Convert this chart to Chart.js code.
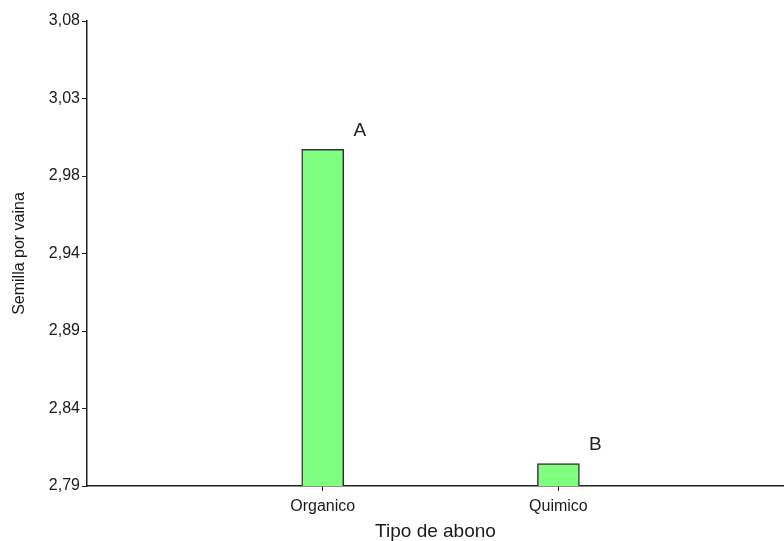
<!DOCTYPE html>
<html>
<head>
<meta charset="utf-8">
<script src="https://cdn.jsdelivr.net/npm/chart.js@4"></script>
<style>
  html, body { margin: 0; padding: 0; background: #fff; }
  #wrap { width: 784px; height: 541px; }
</style>
</head>
<body>
<div id="wrap"><canvas id="chart" width="784" height="541"></canvas></div>
<script>
// data
const categories = ["Organico", "Quimico"];
const categoryPos = [1, 2];
const seedsPerPod = [3.00, 2.804];
const letters = ["A", "B"];
const yTickLabels = ["2,79", "2,84", "2,89", "2,94", "2,98", "3,03", "3,08"];
const yMin = 2.79;
const yMax = 3.08;

const fontFamily = "'Liberation Sans', Arial, sans-serif";

// letters above the bars
const letterPlugin = {
  id: "letters",
  afterDatasetsDraw(chart) {
    const ctx = chart.ctx;
    const xs = chart.scales.x;
    const ys = chart.scales.y;
    ctx.save();
    ctx.font = "19px " + fontFamily;
    ctx.fillStyle = "#222";
    ctx.textAlign = "center";
    ctx.textBaseline = "middle";
    letters.forEach((l, i) => {
      const x = xs.getPixelForValue(categoryPos[i]) + 37;
      const y = ys.getPixelForValue(seedsPerPod[i]) - 19;
      ctx.fillText(l, x, y);
    });
    ctx.restore();
  }
};

const ctx = document.getElementById("chart");
const chart = new Chart(ctx, {
  type: "bar",
  data: {
    datasets: [{
      data: categoryPos.map((p, i) => ({ x: p, y: seedsPerPod[i] })),
      backgroundColor: "#80ff80",
      borderColor: "#333",
      borderWidth: 1.5,
      barThickness: 42
    }]
  },
  options: {
    responsive: false,
    animation: false,
    layout: { padding: { top: 21, right: 0, left: 0, bottom: 0 } },
    plugins: { legend: { display: false }, tooltip: { enabled: false } },
    scales: {
      x: {
        type: "linear",
        offset: false,
        min: 0,
        max: 2.957,
        afterBuildTicks(scale) {
          scale.ticks = categoryPos.map(v => ({ value: v }));
        },
        afterFit(scale) { scale.height = 55; },
        ticks: {
          callback: (v) => categories[categoryPos.indexOf(v)] || "",
          font: { family: fontFamily, size: 16 },
          color: "#1a1a1a",
          padding: 6,
          maxRotation: 0,
          autoSkip: false
        },
        grid: { offset: false, drawOnChartArea: false, drawTicks: true, tickLength: 5, color: "#222" },
        border: { display: true, color: "#222", width: 1.5 },
        title: {
          display: true,
          text: "Tipo de abono",
          font: { family: fontFamily, size: 19, lineHeight: 1 },
          color: "#1a1a1a",
          padding: { top: 0, bottom: 0 }
        }
      },
      y: {
        min: yMin,
        max: yMax,
        afterBuildTicks(scale) {
          const step = (yMax - yMin) / (yTickLabels.length - 1);
          scale.ticks = yTickLabels.map((_, i) => ({ value: yMin + i * step }));
        },
        afterFit(scale) { scale.width = 87; },
        ticks: {
          callback: (v, i) => yTickLabels[i],
          font: { family: fontFamily, size: 16 },
          color: "#1a1a1a",
          padding: 2
        },
        grid: { drawOnChartArea: false, drawTicks: true, tickLength: 5, color: "#222" },
        border: { display: true, color: "#222", width: 1.5 },
        title: {
          display: true,
          text: "Semilla por vaina",
          font: { family: fontFamily, size: 16 },
          color: "#1a1a1a",
          padding: { top: 10, bottom: 8 }
        }
      }
    }
  },
  plugins: [letterPlugin]
});
</script>
</body>
</html>
